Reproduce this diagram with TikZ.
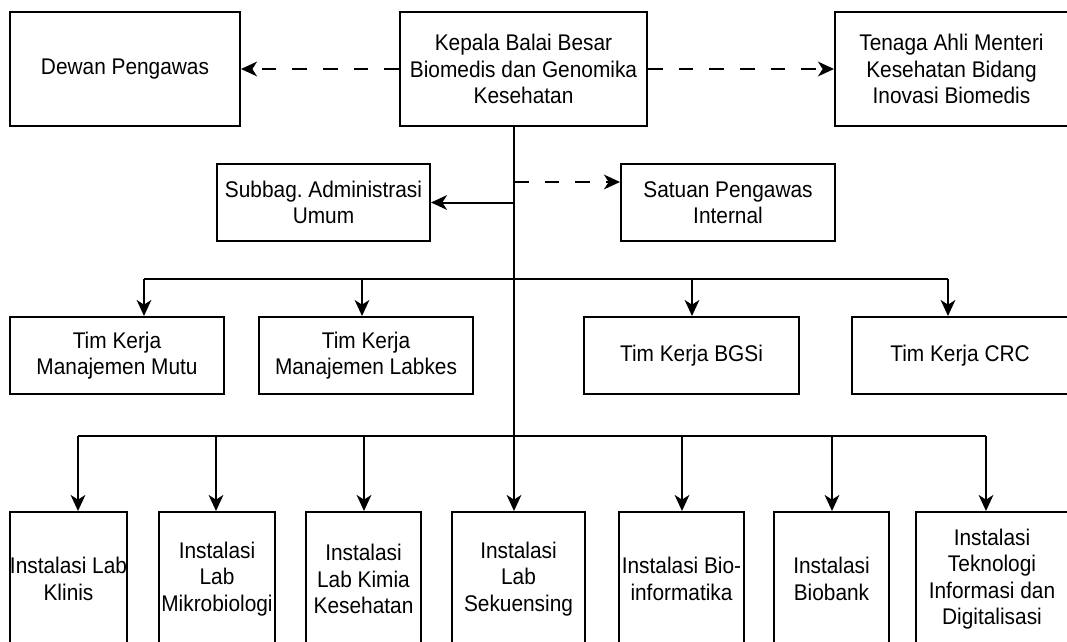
\documentclass[tikz,border=0pt]{standalone}
\usepackage{fontspec}
\setmainfont{Liberation Sans}[FakeStretch=0.92]
\usetikzlibrary{arrows.meta}

\newlength\pxl
\setlength\pxl{0.75pt}

\tikzset{
  unitbox/.style={draw, rectangle, line width=1.5pt, align=center, inner sep=0pt, minimum height=77\pxl},
  labbox/.style={unitbox, minimum height=134\pxl},
  link/.style={line width=1.5pt, -{Stealth[length=12pt,width=11pt,inset=3.5pt]}},
  dashlink/.style={link, dash pattern=on 11pt off 12pt},
  bus/.style={line width=1.5pt}
}

\begin{document}
\frenchspacing
\begin{tikzpicture}[x=0.75pt, y=-0.75pt, font=\fontsize{17pt}{19.8pt}\selectfont]
\useasboundingbox (0,0) rectangle (1067,642);

% top row
\node[unitbox, minimum width=230\pxl, minimum height=114\pxl] (dewan) at (125,69) {Dewan Pengawas};
\node[unitbox, minimum width=247\pxl, minimum height=114\pxl] (kepala) at (523.5,69) {Kepala Balai Besar\\Biomedis dan Genomika\\Kesehatan};
\node[unitbox, minimum width=233\pxl, minimum height=114\pxl] (tenaga) at (951.5,69) {Tenaga Ahli Menteri\\Kesehatan Bidang\\Inovasi Biomedis};

% staff units
\node[unitbox, minimum width=213\pxl] (subbag) at (323.5,202.5) {Subbag. Administrasi\\Umum};
\node[unitbox, minimum width=214\pxl] (satuan) at (728,202.5) {Satuan Pengawas\\Internal};

% tim kerja
\node[unitbox, minimum width=214\pxl] (mutu) at (117,355.5) {Tim Kerja\\Manajemen Mutu};
\node[unitbox, minimum width=214\pxl] (labkes) at (366,355.5) {Tim Kerja\\Manajemen Labkes};
\node[unitbox, minimum width=215\pxl] (bgsi) at (691.5,355.5) {Tim Kerja BGSi};
\node[unitbox, minimum width=216\pxl] (crc) at (960,355.5) {Tim Kerja CRC};

% instalasi
\node[labbox, minimum width=117\pxl] (klinis) at (68.5,579) {Instalasi Lab\\Klinis};
\node[labbox, minimum width=116\pxl] (mikro) at (217,579) {Instalasi\\Lab\\Mikrobiologi};
\node[labbox, minimum width=115\pxl] (kimia) at (363.5,579) {Instalasi\\Lab Kimia\\Kesehatan};
\node[labbox, minimum width=133\pxl] (sekuen) at (518.5,579) {Instalasi\\Lab\\Sekuensing};
\node[labbox, minimum width=125\pxl] (bioinf) at (681.5,579) {Instalasi Bio-\\informatika};
\node[labbox, minimum width=115\pxl] (biobank) at (831.5,579) {Instalasi\\Biobank};
\node[labbox, minimum width=152\pxl] (tekno) at (992,579) {Instalasi\\Teknologi\\Informasi dan\\Digitalisasi};

% connectors
\draw[dashlink] (kepala) -- (dewan);
\draw[dashlink] (kepala) -- (tenaga);

\coordinate (spinetop) at (514,126);
\coordinate (adm) at (514,202.5);
\coordinate (spi) at (514,182);
\draw[link] (spinetop) -- (spinetop |- sekuen.north);
\draw[link] (adm) -- (subbag);
\draw[dashlink] (spi) -- (spi -| satuan.west);

\foreach \n/\x in {mutu/144, labkes/362, bgsi/692, crc/948} {
  \coordinate (in\n) at (\x,279);
  \draw[link] (in\n) -- (in\n |- \n.north);
}
\draw[bus] (inmutu) -- (incrc);

\foreach \n/\x in {klinis/78, mikro/216, kimia/364, bioinf/682, biobank/832, tekno/986} {
  \coordinate (in\n) at (\x,436);
  \draw[link] (in\n) -- (in\n |- \n.north);
}
\draw[bus] (inklinis) -- (intekno);
\end{tikzpicture}
\end{document}
